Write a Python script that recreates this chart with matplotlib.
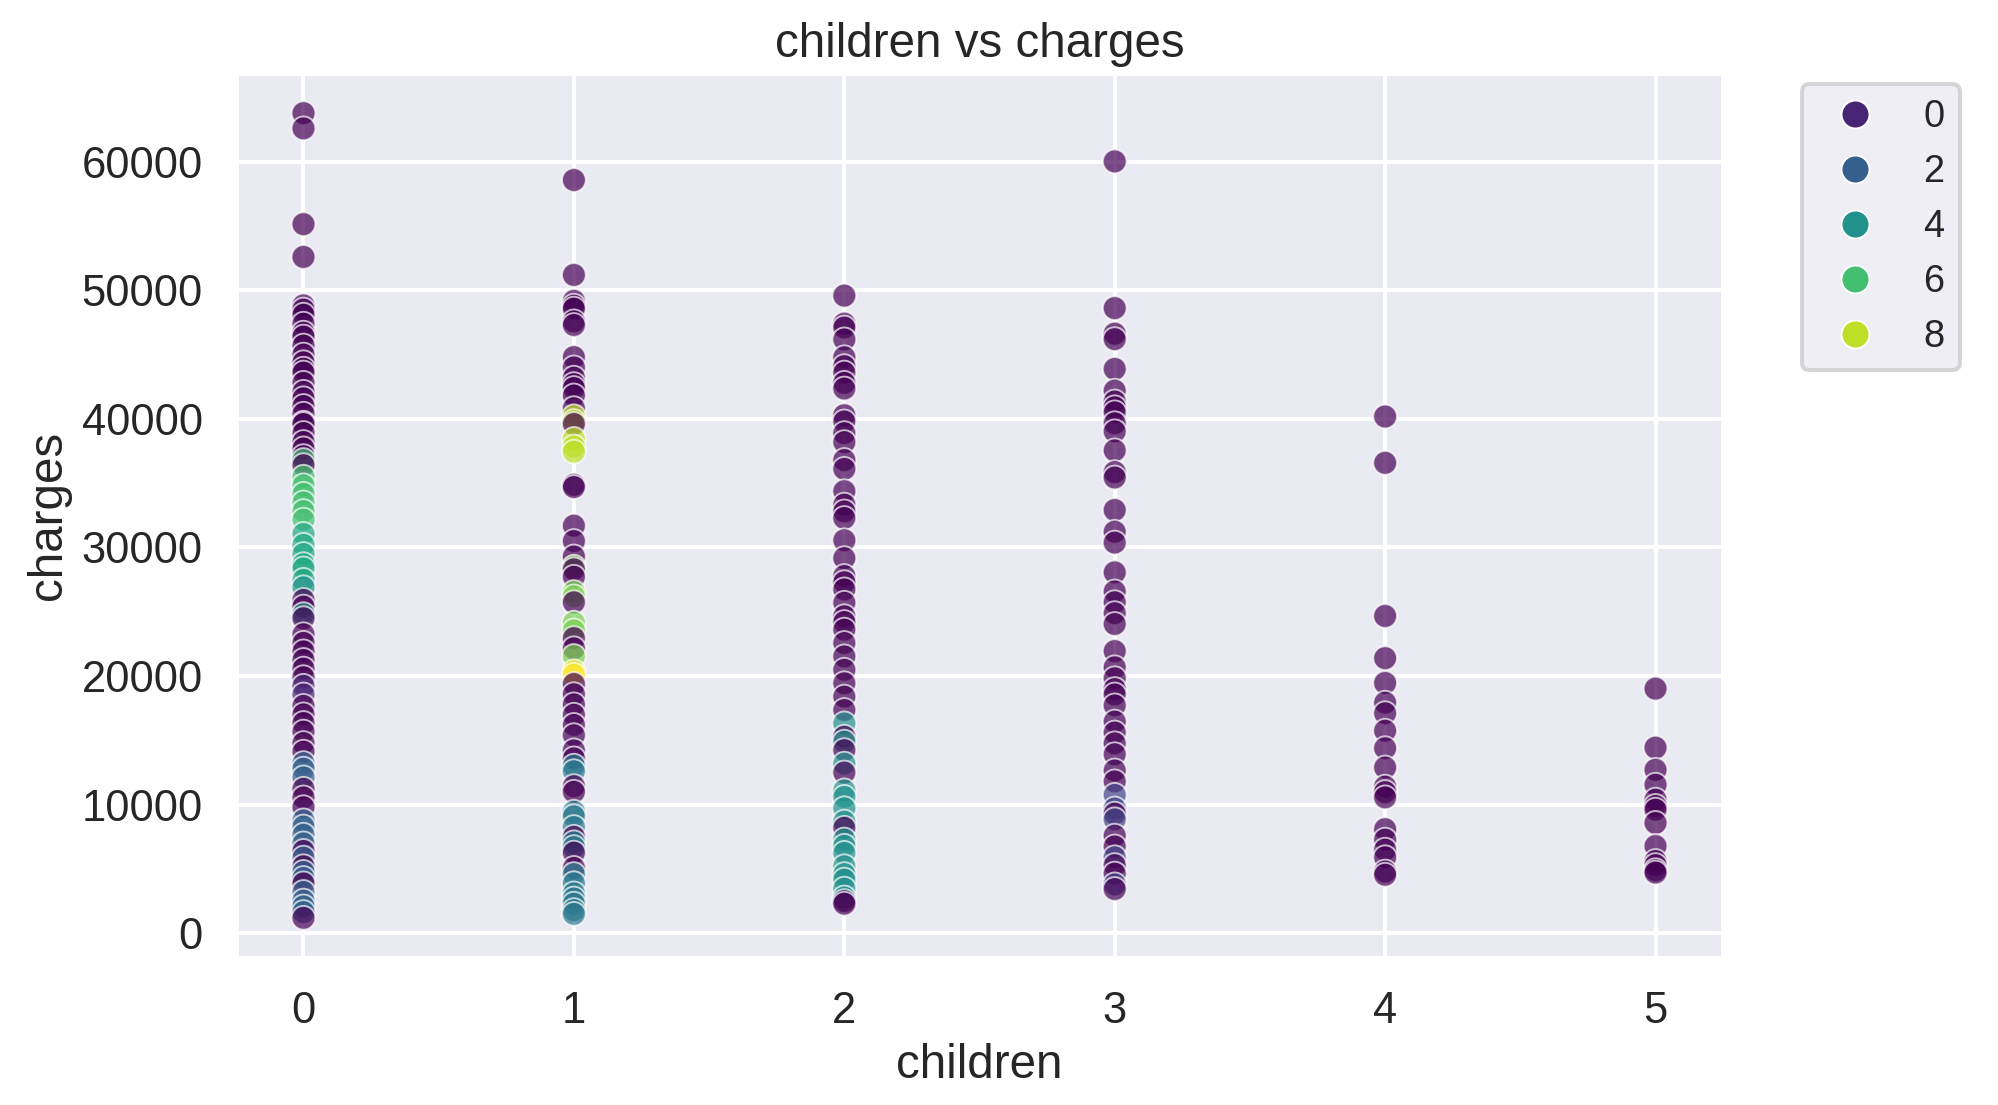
import numpy as np
import pandas as pd
import seaborn as sns
import matplotlib
matplotlib.use("Agg")
import matplotlib.pyplot as plt

# charges, one list per number of children,
# with the cluster label (-1 = noise) of each point
charges_0 = [63770, 62590, 55140, 52590, 48820, 48500, 48100, 47400, 46700, 46400,
             45700, 45000, 44400, 43900, 43600, 42800, 42100, 41600, 41000, 40400,
             39700, 39600, 38900, 38200, 37700, 37100, 36800, 36400, 35500, 34830,
             34170, 33500, 32830, 32160, 31050, 30200, 29490, 28700, 28370, 27480,
             26900, 25920, 25400, 24810, 24500, 23250, 22580, 21920, 21250, 20580,
             19910, 19240, 18570, 17680, 17020, 16350, 15680, 14790, 14120, 13230,
             12800, 12120, 11230, 10560, 9800, 8780, 8300, 7660, 6990, 6400,
             5880, 5210, 4770, 4300, 3880, 3210, 2540, 2090, 1650, 1200]
cluster_0 = [-1, -1, -1, -1, -1, -1, -1, -1, -1, -1,
             -1, -1, -1, -1, -1, -1, -1, -1, -1, -1,
             -1, -1, -1, -1, -1, -1, 6, -1, 6, 6,
             6, 6, 6, 6, 5, 5, 5, 5, 5, 5,
             4, -1, -1, 4, -1, -1, -1, -1, -1, -1,
             -1, 0, 0, -1, -1, -1, -1, -1, -1, 2,
             2, 2, -1, -1, -1, 2, 2, 2, 2, -1,
             2, -1, 2, 2, -1, 2, 2, 2, 2, -1]

charges_1 = [58570, 51190, 49170, 48800, 48570, 47580, 47300, 44800, 44000, 43200,
             42700, 42400, 41820, 40830, 40200, 39830, 39600, 38440, 37850, 37450,
             34870, 34700, 31690, 30500, 29300, 28500, 28300, 27720, 26530, 26200,
             25735, 24150, 23550, 22950, 22160, 21560, 20370, 20100, 19380, 18590,
             17800, 16990, 16200, 15400, 14220, 13600, 13030, 12600, 11440, 11000,
             9450, 9100, 8260, 7500, 7070, 6700, 6270, 5080, 4600, 3890,
             3100, 2700, 2300, 1800, 1510]
cluster_1 = [-1, -1, -1, -1, -1, -1, -1, -1, -1, -1,
             -1, -1, -1, -1, 8, 8, -1, 8, 8, 8,
             -1, -1, -1, -1, -1, 7, -1, -1, 7, 7,
             -1, 7, 7, -1, -1, 7, 9, 9, -1, -1,
             -1, -1, -1, -1, -1, -1, 3, 3, -1, -1,
             3, 3, 3, -1, 3, 3, -1, -1, 3, 3,
             3, 3, 3, 3, 3]

charges_2 = [49580, 47400, 47100, 46180, 44790, 44100, 43600, 42800, 42360, 40280,
             39800, 38890, 38190, 36800, 36110, 34375, 33330, 32800, 32290, 30560,
             29170, 27780, 27300, 26740, 25700, 24650, 24200, 23610, 22570, 21530,
             20490, 19440, 18400, 17360, 16320, 15280, 14900, 14240, 13190, 12500,
             11110, 10600, 9720, 8680, 8200, 7290, 6800, 6250, 5210, 4600,
             4170, 3470, 2780, 2500, 2300]
cluster_2 = [-1, -1, -1, -1, -1, -1, -1, -1, -1, -1,
             -1, -1, -1, -1, -1, -1, -1, -1, -1, -1,
             -1, -1, -1, -1, -1, -1, -1, -1, -1, -1,
             -1, -1, -1, -1, 4, -1, 4, -1, 4, -1,
             4, 4, 4, 4, -1, 4, 4, 4, 4, 4,
             4, 4, 4, -1, -1]

charges_3 = [60020, 48610, 46620, 46200, 43880, 42190, 41350, 40900, 40510, 39660,
             39030, 37550, 35860, 35440, 32910, 31220, 30380, 28060, 26580, 25740,
             24890, 24050, 21940, 20680, 19830, 18990, 18570, 17720, 16460, 15610,
             14770, 13920, 12660, 11810, 10760, 9700, 9300, 8860, 7590, 6750,
             5910, 5300, 4640, 3800, 3440]
cluster_3 = [-1, -1, -1, -1, -1, -1, -1, -1, -1, -1,
             -1, -1, -1, -1, -1, -1, -1, -1, -1, -1,
             -1, -1, -1, -1, -1, -1, -1, -1, -1, -1,
             -1, -1, -1, -1, 1, 1, -1, 1, -1, -1,
             1, -1, -1, 1, -1]

charges_4 = [40180, 36580, 24670, 21390, 19460, 17930, 17110, 15750, 14390, 12890,
             11400, 10980, 10570, 8090, 7280, 6500, 5910, 4800, 4550]
cluster_4 = [-1] * len(charges_4)

charges_5 = [19020, 14430, 12710, 11550, 10390, 9900, 9610, 8580, 6780, 5620,
             5300, 4900, 4720]
cluster_5 = [-1] * len(charges_5)

groups = [charges_0, charges_1, charges_2, charges_3, charges_4, charges_5]
labels = [cluster_0, cluster_1, cluster_2, cluster_3, cluster_4, cluster_5]

df = pd.DataFrame({
    "children": np.concatenate([[k] * len(g) for k, g in enumerate(groups)]),
    "charges": np.concatenate(groups),
    "cluster": np.concatenate(labels).astype(int),
})

sns.set_theme(style="darkgrid", context="talk")
plt.rcParams["font.family"] = ["Liberation Sans", "DejaVu Sans"]

dpi = 190
fig, ax = plt.subplots(figsize=(1999 / dpi, 1105 / dpi), dpi=dpi)
fig.subplots_adjust(left=0.118, right=0.862, bottom=0.133, top=0.934)

sns.scatterplot(data=df, x="children", y="charges", hue="cluster",
                palette="viridis", alpha=0.7, ax=ax)

ax.set_title("children vs charges")
leg = ax.legend(bbox_to_anchor=(1.04, 1.009), loc="upper left", fontsize=14.4)
for h in leg.legend_handles:
    h.set_alpha(1)
    h.set_markersize(10.6)

fig.savefig("out.png", dpi=dpi)
